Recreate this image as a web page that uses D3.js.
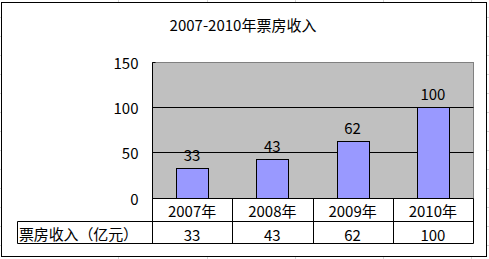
<!DOCTYPE html>
<meta charset="utf-8">
<script src="https://d3js.org/d3.v7.min.js"></script>
<div id="chart"></div>
<style>
  body { margin: 0; padding: 0; background: #fff; overflow: hidden; }
  text { font-family: "Noto Sans CJK SC", sans-serif; font-size: 15px; fill: #000; }
</style>
<script>
  const title = "2007-2010年票房收入";
  const years = ["2007年", "2008年", "2009年", "2010年"];
  const seriesName = "票房收入（亿元）";
  const revenue = [33, 43, 62, 100];
  const yTicks = [0, 50, 100, 150];

  const WIDTH = 489, HEIGHT = 259;
  const px = v => Math.round(v) + 0.5; // crisp 1px lines

  const svg = d3.select("#chart").append("svg")
    .attr("width", WIDTH)
    .attr("height", HEIGHT);

  // faint spreadsheet grid behind the chart object
  const sheet = svg.append("g").attr("stroke", "#d4d4d4").attr("shape-rendering", "crispEdges");
  d3.range(17, HEIGHT, 19).forEach(y => sheet.append("line").attr("x1", 0).attr("x2", WIDTH).attr("y1", y + 0.5).attr("y2", y + 0.5));
  [118, 207, 295, 383, 471].forEach(x => sheet.append("line").attr("x1", x + 0.5).attr("x2", x + 0.5).attr("y1", 0).attr("y2", HEIGHT));

  // chart area
  svg.append("rect")
    .attr("x", 1.5).attr("y", 2.5)
    .attr("width", 485).attr("height", 254)
    .attr("fill", "#fff").attr("stroke", "#000");

  svg.append("text")
    .attr("x", 243).attr("y", 24.5)
    .attr("text-anchor", "middle")
    .attr("dominant-baseline", "central")
    .text(title);

  const plotLeft = 152, plotRight = 473, plotTop = 62, plotBottom = 197.5;
  const rowH = [23, 22];

  const x = d3.scaleBand()
    .domain(years)
    .range([plotLeft, plotRight])
    .paddingInner(0.6)
    .paddingOuter(0.3);
  const y = d3.scaleLinear().domain([0, 150]).range([plotBottom, plotTop - 0.5]);

  // plot area
  svg.append("rect")
    .attr("x", plotLeft + 0.5).attr("y", px(y(150)))
    .attr("width", plotRight - plotLeft).attr("height", Math.round(y(0)) - Math.round(y(150)))
    .attr("fill", "#c0c0c0").attr("stroke", "#808080");

  // gridlines
  svg.append("g").selectAll("line")
    .data(yTicks.filter(d => d > 0 && d < 150))
    .join("line")
    .attr("x1", plotLeft).attr("x2", plotRight + 0.5)
    .attr("y1", d => px(y(d))).attr("y2", d => px(y(d)))
    .attr("stroke", "#000");

  // y axis
  const yAxis = svg.append("g").attr("transform", `translate(${plotLeft + 0.5},0)`);
  yAxis.append("line").attr("y1", px(y(150))).attr("y2", px(y(0))).attr("stroke", "#000");
  yAxis.selectAll("line.tick").data(yTicks).join("line").attr("class", "tick")
    .attr("x1", 0).attr("x2", 3)
    .attr("y1", d => px(y(d))).attr("y2", d => px(y(d)))
    .attr("stroke", "#000");
  yAxis.selectAll("text").data(yTicks).join("text")
    .attr("x", -14).attr("y", d => y(d) + 0.5)
    .attr("text-anchor", "end")
    .attr("dominant-baseline", "central")
    .text(d => d);

  // bars
  svg.append("g").selectAll("rect")
    .data(revenue)
    .join("rect")
    .attr("x", (d, i) => px(x(years[i])))
    .attr("y", d => px(y(d)))
    .attr("width", Math.round(x.bandwidth()))
    .attr("height", d => Math.round(y(0)) - Math.round(y(d)))
    .attr("fill", "#9999ff")
    .attr("stroke", "#000");

  // data labels
  svg.append("g").selectAll("text")
    .data(revenue)
    .join("text")
    .attr("x", (d, i) => x(years[i]) + x.bandwidth() / 2)
    .attr("y", d => y(d) - 13.5)
    .attr("text-anchor", "middle")
    .attr("dominant-baseline", "central")
    .text(d => d);

  // data table
  const table = svg.append("g");
  const step = x.step();
  const colEdges = years.map((d, i) => plotLeft + i * step).concat([plotRight]);
  const r0 = Math.round(plotBottom), r1 = r0 + rowH[0], r2 = r1 + rowH[1];
  const labelLeft = 17;

  table.append("line").attr("x1", plotLeft).attr("x2", plotRight + 0.5).attr("y1", r0 + 0.5).attr("y2", r0 + 0.5).attr("stroke", "#000");
  table.append("line").attr("x1", labelLeft + 0.5).attr("x2", plotRight + 0.5).attr("y1", r1 + 0.5).attr("y2", r1 + 0.5).attr("stroke", "#000");
  table.append("line").attr("x1", labelLeft + 0.5).attr("x2", plotRight + 0.5).attr("y1", r2 + 0.5).attr("y2", r2 + 0.5).attr("stroke", "#000");
  table.append("line").attr("x1", labelLeft + 0.5).attr("x2", labelLeft + 0.5).attr("y1", r1 + 0.5).attr("y2", r2 + 0.5).attr("stroke", "#000");
  table.selectAll("line.col").data(colEdges).join("line").attr("class", "col")
    .attr("x1", d => px(d)).attr("x2", d => px(d))
    .attr("y1", r0 + 0.5).attr("y2", r2 + 0.5)
    .attr("stroke", "#000");

  table.selectAll("text.cat").data(years).join("text").attr("class", "cat")
    .attr("x", d => x(d) + x.bandwidth() / 2)
    .attr("y", r0 + rowH[0] / 2 + 1)
    .attr("text-anchor", "middle")
    .attr("dominant-baseline", "central")
    .text(d => d);

  table.selectAll("text.val").data(revenue).join("text").attr("class", "val")
    .attr("x", (d, i) => x(years[i]) + x.bandwidth() / 2)
    .attr("y", r1 + rowH[1] / 2 + 2)
    .attr("text-anchor", "middle")
    .attr("dominant-baseline", "central")
    .text(d => d);

  table.append("text")
    .attr("x", labelLeft + 2)
    .attr("y", r1 + rowH[1] / 2 + 1)
    .attr("dominant-baseline", "central")
    .attr("textLength", 119)
    .attr("lengthAdjust", "spacing")
    .text(seriesName);
</script>
